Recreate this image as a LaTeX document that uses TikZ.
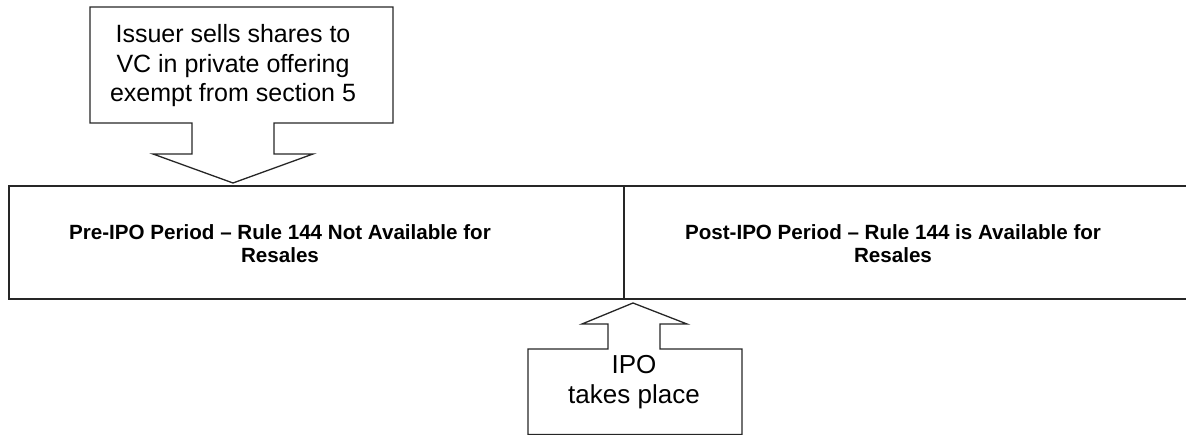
\documentclass[tikz,border=0pt]{standalone}
\usepackage{fontspec}
\setmainfont{Liberation Sans}
\begin{document}
\begin{tikzpicture}[x=1pt,y=1pt,
  outline/.style={draw=black!85,line width=1.3pt,line join=miter},
  calltext/.style={align=center,font=\fontsize{25}{29.5}\selectfont,inner sep=0pt},
  periodtext/.style={align=center,font=\bfseries\fontsize{20.6}{23.5}\selectfont,inner sep=0pt}]
\useasboundingbox (0,0) rectangle (1186,435);
% top callout
\draw[outline] (90,428) -- (393,428) -- (393,312) -- (274,312) -- (274,281) -- (313,281)
  -- (233,252) -- (153,281) -- (192,281) -- (192,312) -- (90,312) -- cycle;
\node[calltext] (issuer) at (233,369) {Issuer sells shares to\\VC in private offering\\exempt from section 5};
% main timeline box
\draw[outline] (1190,249) -- (9,249) -- (9,136) -- (1190,136);
\coordinate (divtop) at (624,249);
\coordinate (divbot) at (624,136);
\draw[outline] (divtop) -- (divbot);
\node[periodtext] (pre) at (280,191.5) {Pre-IPO Period -- Rule 144 Not Available for\\Resales};
\node[periodtext] (post) at (893,191.5) {Post-IPO Period -- Rule 144 is Available for\\Resales};
% bottom callout
\draw[outline] (528,0.5) -- (528,86) -- (608,86) -- (608,111) -- (582,111) -- (633,132)
  -- (687,111) -- (660,111) -- (660,86) -- (742,86) -- (742,0.5) -- cycle;
\node[calltext,font=\fontsize{26}{30}\selectfont] (ipo) at (634,53) {IPO\\takes place};
\end{tikzpicture}
\end{document}
